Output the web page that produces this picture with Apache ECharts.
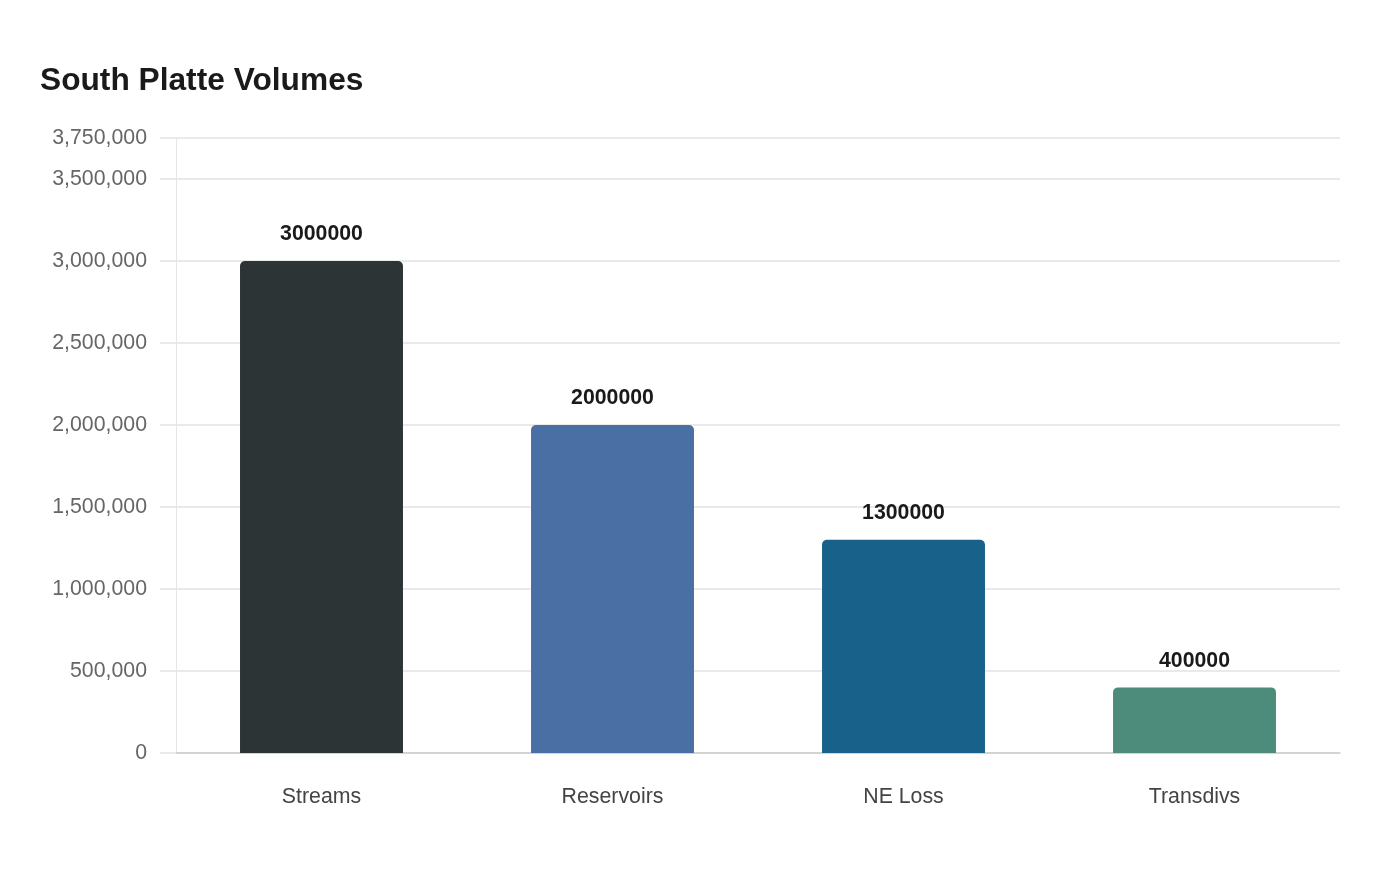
<!DOCTYPE html>
<html><head><meta charset="utf-8">
<script src="https://cdn.jsdelivr.net/npm/echarts@6/dist/echarts.min.js"></script>
<style>html,body{margin:0;padding:0;background:#fff}#c{width:1400px;height:880px}</style>
</head><body><div id="c"></div>
<script>
const categories = ["Streams", "Reservoirs", "NE Loss", "Transdivs"];
const values = [3000000, 2000000, 1300000, 400000];
const colors = ["#2d3436", "#4a6fa5", "#17618a", "#4d8c7a"];
const chart = echarts.init(document.getElementById('c'));
chart.setOption({
  backgroundColor: '#fff',
  animation: false,
  title: {
    text: 'South Platte Volumes', left: 35, top: 60,
    textStyle: {fontFamily: 'Liberation Sans, Arial, sans-serif', fontSize: 31.7, fontWeight: 'bold', color: '#1a1a1a'}
  },
  grid: {left: 176, right: 60, top: 138, bottom: 127},
  xAxis: {
    type: 'category', data: categories,
    axisLine: {lineStyle: {color: '#cccccc', width: 1.5}},
    axisTick: {show: false},
    axisLabel: {fontFamily: 'Liberation Sans, Arial, sans-serif', fontSize: 21.3, color: '#444', margin: 34}
  },
  yAxis: {
    type: 'value', min: 0, max: 3750000, interval: 500000,
    axisLine: {show: true, lineStyle: {color: '#e6e6e6'}},
    axisTick: {show: true, length: 16, lineStyle: {color: '#eaeaea', width: 2}},
    splitLine: {lineStyle: {color: '#eaeaea', width: 2}},
    axisLabel: {fontFamily: 'Liberation Sans, Arial, sans-serif', fontSize: 21.3, color: '#666', margin: 29,
      padding: [4, 0, 0, 0],
      formatter: v => v.toLocaleString('en-US')}
  },
  series: [{
    type: 'bar', barWidth: '56%',
    data: values.map((v, i) => ({value: v, itemStyle: {color: colors[i]}})),
    itemStyle: {borderRadius: [5, 5, 0, 0]},
    label: {show: true, position: 'top', distance: 16, fontFamily: 'Liberation Sans, Arial, sans-serif',
      fontSize: 21.3, fontWeight: 'bold', color: '#1a1a1a'}
  }]
});
</script></body></html>
